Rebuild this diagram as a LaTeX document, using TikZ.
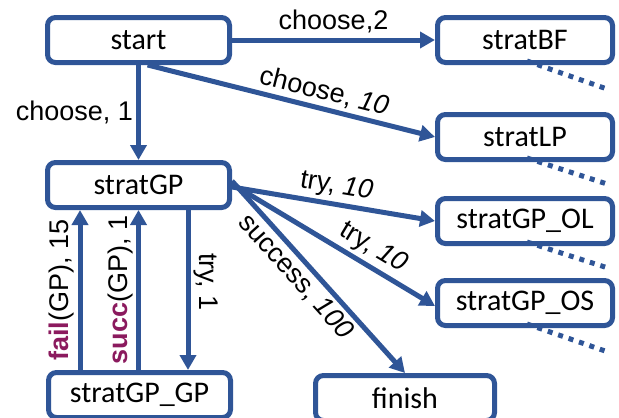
\documentclass[tikz,border=0pt]{standalone}
\usepackage{fontspec}
\setmainfont{Liberation Sans}
\newfontfamily\boxfont{Carlito}
\usetikzlibrary{arrows.meta}
\definecolor{edgeblue}{HTML}{2F5597}
\definecolor{hilite}{HTML}{8B1A5E}
\newcommand\hlword[1]{\textbf{\color{hilite}#1}}
\begin{document}
\begin{tikzpicture}[x=1pt,y=-1pt,
  statebox/.style={draw=edgeblue,line width=5pt,rounded corners=8pt,fill=white,
    minimum height=45pt,inner sep=0pt,font=\boxfont\fontsize{30}{32}\selectfont},
  conn/.style={draw=edgeblue,line width=5pt,-{Triangle[length=15pt,width=16pt]}},
  more/.style={draw=edgeblue,line width=5pt,dash pattern=on 5pt off 6pt},
  lbl/.style={font=\fontsize{27}{29}\selectfont,inner sep=3pt}]
\useasboundingbox (0,0) rectangle (619,418);
% dotted continuations
\coordinate (dBF) at (607,89);
\coordinate (dLP) at (607,184);
\coordinate (dOL) at (608,268);
\coordinate (dOS) at (608,352);
\node[statebox,minimum width=182pt] (start) at (138.5,40) {start};
\node[statebox,minimum width=175pt] (bf) at (525,40) {stratBF};
\node[statebox,minimum width=175pt] (lp) at (525,137) {stratLP};
\node[statebox,minimum width=182pt] (gp) at (138.5,185) {stratGP};
\node[statebox,minimum width=175pt] (ol) at (525,221) {stratGP\_OL};
\node[statebox,minimum width=175pt] (os) at (525,303) {stratGP\_OS};
\node[statebox,minimum width=182pt] (gpgp) at (139.5,395) {stratGP\_GP};
\node[statebox,minimum width=179pt] (fin) at (405,398) {finish};
\draw[more] ([xshift=2pt,yshift=4pt]bf.south) -- (dBF);
\draw[more] ([xshift=2pt,yshift=4pt]lp.south) -- (dLP);
\draw[more] ([xshift=2pt,yshift=4pt]ol.south) -- (dOL);
\draw[more] ([xshift=2pt,yshift=4pt]os.south) -- (dOS);
% edges
\draw[conn] (start.east) -- node[lbl,above,yshift=2pt] {choose,2} (bf.west);
\draw[conn] (start.-70) -- node[lbl,sloped,above,pos=0.6] {choose, \textit{10}} (lp.west);
\draw[conn] (start.south) -- node[lbl,left] {choose, 1} (gp.north);
\draw[conn] ([yshift=-2pt]gp.east) -- node[lbl,sloped,above,pos=0.5] {try, \textit{10}} (ol.west);
\draw[conn] ([yshift=1pt]gp.east) -- node[lbl,sloped,above,pos=0.65] {try, \textit{10}} ([yshift=-3pt]os.west);
\draw[conn] ([yshift=4pt]gp.east) -- node[lbl,sloped,below,pos=0.44] {success, \textit{100}} (fin.north);
\draw[conn] ([xshift=-59.5pt]gpgp.north) -- node[lbl,sloped,above] {\hlword{fail}(GP), 15} ([xshift=-58.5pt]gp.south);
\draw[conn] ([xshift=-1pt]gpgp.north) -- node[lbl,sloped,above] {\hlword{succ}(GP), 1} (gp.south);
\draw[conn] ([xshift=49.5pt]gp.south) -- node[lbl,sloped,above,pos=0.45] {try, 1} ([xshift=48.5pt]gpgp.north);
\end{tikzpicture}
\end{document}
